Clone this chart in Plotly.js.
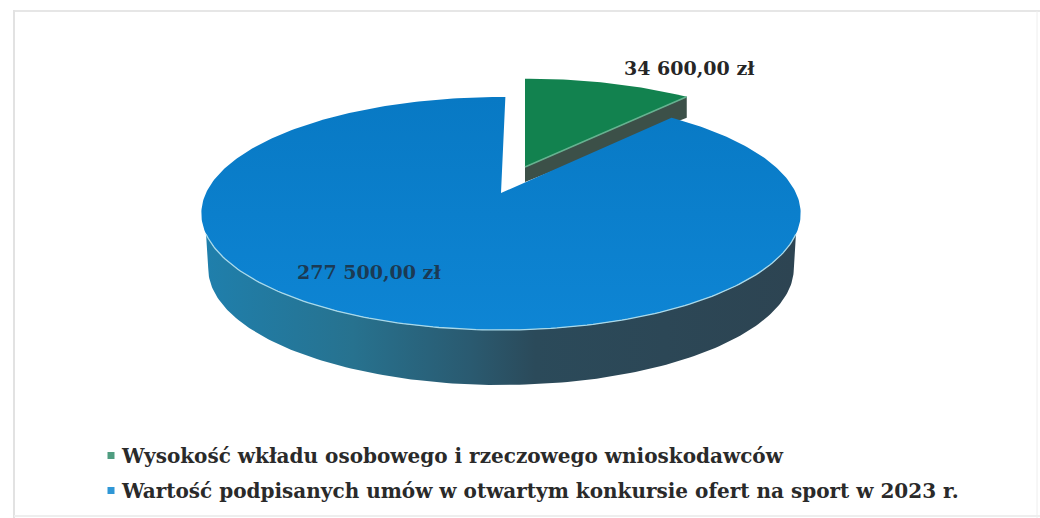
<!DOCTYPE html>
<html>
<head>
<meta charset="utf-8">
<script src="https://cdn.plot.ly/plotly-3.0.1.min.js"></script>
<style>html,body{margin:0;padding:0;background:#fff}#c{width:1040px;height:518px}</style>
</head>
<body>
<div id="c"></div>
<script>
const categories = [
  "Wysokość wkładu osobowego i rzeczowego wnioskodawców",
  "Wartość podpisanych umów w otwartym konkursie ofert na sport w 2023 r."
];
const values = [34600, 277500];
const valueLabels = ["34 600,00 zł", "277 500,00 zł"];
const sliceColors = ["#12824f", "#0b7fca"];
const legendColors = ["#4f9d80", "#2f97d6"];

const total = values[0] + values[1];
const sweep = 360 * values[0] / total;

// perspective projection of the pie disc onto the page
const persp = 0.176, depthB = 112.9, radius = 295;
function project(deg, o) {
  const t = deg * Math.PI / 180, u = Math.sin(t), v = Math.cos(t), k = 1 + persp * v;
  return [o.x + o.sx * radius * u / k, o.y + o.dy - o.sy * depthB * v / k];
}
function arc(from, to, o) {
  const pts = [], n = Math.max(2, Math.round(Math.abs(to - from)));
  for (let i = 0; i <= n; i++) pts.push(project(from + (to - from) * i / n, o));
  return pts;
}
const blueDisc = {x: 501, y: 193, dy: 0, sx: 1, sy: 1};
const blueFloor = {x: 501, y: 193, dy: 55, sx: 0.977, sy: 1};
const greenDisc = {x: 525, y: 167, dy: 0, sx: 0.97, sy: 0.92};
const rot = 1;

const greenArc = arc(0, sweep, greenDisc);
const blueArc = arc(rot + sweep, rot + 360, blueDisc);
const rim = arc(90, 270, blueDisc).filter(p => p[1] >= 233);
const floor = arc(90, 270, blueFloor).filter(p => p[1] >= 268);
const wall = rim.concat(floor.slice().reverse());
const gEnd = greenArc[greenArc.length - 1];
const gWall = [[525, 167], gEnd, [gEnd[0], gEnd[1] + 21], [525, 182]];
const bluePoly = [[501, 193]].concat(blueArc);
const greenPoly = [[525, 167]].concat(greenArc);

function poly(pts, extra) {
  return Object.assign({
    x: pts.map(p => p[0]).concat([pts[0][0]]),
    y: pts.map(p => p[1]).concat([pts[0][1]]),
    mode: "lines", fill: "toself", line: {width: 0},
    hoverinfo: "skip", showlegend: false, type: "scatter"
  }, extra);
}
const traces = [
  poly(wall, {
    fillcolor: "#2a7fa8",
    fillgradient: {
      type: "horizontal", start: 205, stop: 795,
      colorscale: [[0, "#1f7fac"], [0.25, "#27728f"], [0.45, "#2a5a70"], [0.56, "#2b4a5a"], [1, "#2d4452"]]
    }
  }),
  poly(gWall, {fillcolor: "#3c5048"}),
  poly(greenPoly, {fillcolor: sliceColors[0], name: categories[0]}),
  poly(bluePoly, {
    fillcolor: sliceColors[1], name: categories[1],
    fillgradient: {
      type: "vertical", start: 97, stop: 330,
      colorscale: [[0, "#0879c4"], [1, "#0e85d4"]]
    }
  }),
  {
    type: "scatter", mode: "lines", hoverinfo: "skip", showlegend: false,
    x: rim.map(p => p[0]), y: rim.map(p => p[1]),
    line: {color: "#a9d9ea", width: 1.3}
  },
  {
    type: "scatter", mode: "lines", hoverinfo: "skip", showlegend: false,
    x: [525, gEnd[0]], y: [167, gEnd[1]],
    line: {color: "#66b290", width: 1.5}
  }
];
categories.forEach((c, i) => traces.push({
  type: "scatter", mode: "markers", x: [null], y: [null], name: c, hoverinfo: "skip",
  legendgroup: "g" + i, marker: {symbol: "square", size: 7, color: legendColors[i]}
}));

const textFont = {family: "'DejaVu Serif', serif", size: 19, color: "#262626", weight: 700};
const layout = {
  width: 1040, height: 518,
  margin: {l: 0, r: 0, t: 0, b: 0},
  paper_bgcolor: "#ffffff", plot_bgcolor: "rgba(0,0,0,0)",
  xaxis: {range: [0, 1040], visible: false, fixedrange: true},
  yaxis: {range: [518, 0], visible: false, fixedrange: true},
  showlegend: true,
  legend: {
    x: 82 / 1040, y: 1 - 436 / 518, xanchor: "left", yanchor: "top",
    traceorder: "grouped", tracegroupgap: 6, itemclick: false, itemdoubleclick: false,
    bgcolor: "rgba(0,0,0,0)", borderwidth: 0,
    font: {family: textFont.family, size: 20, color: "#2a2a2a", weight: 700}
  },
  annotations: [
    {x: 689, y: 68, text: valueLabels[0]},
    {x: 369, y: 272, text: valueLabels[1]}
  ].map((a, i) => Object.assign(a, {
    xref: "x", yref: "y", showarrow: false,
    font: Object.assign({}, textFont, {color: i ? "#1b3a54" : "#262626"})
  })),
  shapes: [
    {type: "line", xref: "x", yref: "y", x0: 13, x1: 1040, y0: 11, y1: 11, line: {color: "#e6e6e6", width: 2}},
    {type: "line", xref: "x", yref: "y", x0: 14, x1: 14, y0: 10, y1: 518, line: {color: "#e2e2e2", width: 2}},
    {type: "line", xref: "x", yref: "y", x0: 14, x1: 1040, y0: 516, y1: 516, line: {color: "#eeeeee", width: 2}},
    {type: "line", xref: "x", yref: "y", x0: 1037, x1: 1037, y0: 11, y1: 518, line: {color: "#eeeeee", width: 1}}
  ]
};
Plotly.newPlot("c", traces, layout, {displayModeBar: false, staticPlot: true}).then(() => {
  document.querySelectorAll("#c .legend .legendsymbols").forEach(g => g.setAttribute("transform", "translate(9,0)"));
});
</script>
</body>
</html>
